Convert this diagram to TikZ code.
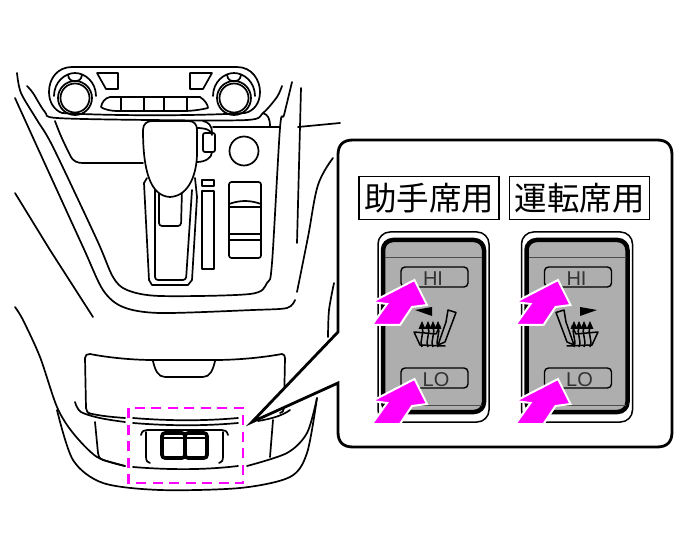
\documentclass[tikz,border=0pt]{standalone}
\usepackage{fontspec}
\newfontfamily\cjk{Noto Sans CJK JP}
\setsansfont{Liberation Sans}
\usetikzlibrary{calc}
\definecolor{Pink}{HTML}{FF00FF}
\definecolor{Panel}{HTML}{AEAEAE}
\tikzset{
  outline/.style={line width=1.7pt,line join=round,line cap=round},
  thickline/.style={line width=2.8pt,line join=round},
  title/.style={draw,line width=1.3pt,minimum width=140pt,minimum height=43pt,inner sep=0pt,font=\cjk\fontsize{32.5}{32.5}\selectfont},
  keycap/.style={draw,line width=1.4pt,rounded corners=4pt,minimum width=67pt,minimum height=20pt,inner sep=0pt},
  keytext/.style={inner sep=0pt,font=\sffamily\fontsize{20}{20}\selectfont,text=black!80},
  pusharrow/.style={fill=Pink,draw=white,line width=2pt,line join=miter},
}
% one seat switch, drawn at the position of the left one
\newcommand{\seatswitch}[1]{
  \draw[outline,rounded corners=12pt,line width=1.5pt] (378,232) rectangle (489,422);
  \draw[thickline,line width=4.5pt,fill=Panel,rounded corners=10pt] (383,240) rectangle (484,412);
  \draw[black!70,line width=1pt] (385,258)--(482,258) (385,405)--(482,405);
  \node[keycap] (hi#1) at (434.5,277) {};
  \node[keycap] (lo#1) at (434.5,378) {};
  \node[keytext] at (433,278.5) {HI};
  \node[keytext] at (436,379.5) {LO};
}
% seat with heating arrows, mirrored for the driver side
\newcommand{\seaticon}{
  \fill (432,307)--(432,316)--(415,310)--cycle;
  \draw[outline,line width=1.5pt,fill=Panel] (448,310)--(456,312.5)--(445,342)--(438,345)--(446,322)--cycle;
  \draw[outline,line width=1.5pt] (414,332)--(420,345)--(445,346) (414,332)--(436,334)--(440,326);
  \foreach \x in {422,428,433,438}{
    \draw[line width=1.5pt] (\x,347) .. controls (\x-3,340) and (\x+3,332) .. (\x,327);
    \fill (\x-3.5,329)--(\x,321)--(\x+3.5,329)--cycle;
  }
}
\newcommand{\pushshape}{(414.5,280)--(427,305)--(412,307)--(400,325)--(372,325)--(387,304)--(372,302)--cycle}
\begin{document}
\begin{tikzpicture}[x=1pt,y=-1pt]
  \useasboundingbox (0,0) rectangle (686,556);
  % outer console lines
  \draw[outline] plot[smooth,tension=.5] coordinates {(15,98) (40,153) (83,247) (103,290) (123,307) (160,313) (253,310) (287,308) (295,300)};
  \draw[outline] plot[smooth,tension=.5] coordinates {(17,73) (21,93) (37,120) (53,147) (97,240) (113,277) (127,290) (160,296) (250,294) (267,283) (272,263) (280,128) (284,115) (292,82)};
  \draw[outline] (301,88)--(297,243);
  \draw[outline] (298,127)--(340,123);
  \draw[outline] plot[smooth,tension=.6] coordinates {(333,158) (318,185) (308,237) (297,292)};
  \draw[outline] (15,193)--(50,250)--(93,317);
  \draw[outline] plot[smooth] coordinates {(334,283) (329,310) (328,337)};
  % dash panel
  \draw[outline] plot[smooth,tension=.5] coordinates {(27,86) (33,93) (45,112) (57,118) (150,120) (247,120) (263,113) (277,97) (282,86)};
  \draw[outline] (55,121) .. controls (60,135) and (65,145) .. (70,155) .. controls (73,162) and (78,163) .. (83,163)--(143,163);
  \draw[outline] (213,127)--(280,127);
  \draw[outline] (263,113) .. controls (268,115) and (270,118) .. (270,127);
  \draw[outline] (72,67)--(237,67) .. controls (252,67) and (260,80) .. (260,92) .. controls (260,103) and (254,111) .. (245,113) .. controls (200,116) and (110,116) .. (62,113) .. controls (54,110) and (49,102) .. (49,92) .. controls (49,78) and (58,67) .. (72,67)--cycle;
  \foreach \x in {75,234}{
    \draw[outline] (\x,98) circle (14.5pt);
    \draw[outline] (\x,98) circle (17pt);
    \draw[outline] (\x-21,96) .. controls (\x-21,82) and (\x-10,73) .. (\x,73) .. controls (\x+10,73) and (\x+21,82) .. (\x+21,96);
    \draw[outline] (\x-7,75) .. controls (\x-6,80) and (\x-4,81) .. (\x,81) .. controls (\x+4,81) and (\x+6,80) .. (\x+7,75);
  }
  \draw[outline] (97,73)--(118,73)--(118,89)--(106,89)--cycle;
  \draw[outline] (190,73)--(212,73)--(203,89)--(190,89)--cycle;
  \draw[outline] (110,97)--(200,97) .. controls (205,100) and (208,105) .. (208,108) .. controls (200,110) and (190,111) .. (185,111)--(118,111) .. controls (110,111) and (103,109) .. (101,107) .. controls (102,102) and (105,98) .. (110,97)--cycle;
  \foreach \x in {121,144,164,187}{\draw[outline] (\x,97)--(\x,111);}
  % shifter
  \draw[outline] (147,178)--(144,183)--(149,280)--(152,285)--(188,285)--(192,280)--(197,197)--(195,178);
  \draw[outline,rounded corners=3pt] (155,190)--(155,280)--(186,280)--(192,190);
  \draw[outline,rounded corners=3pt] (159,190)--(159,226)--(181,226)--(182,190);
  \draw[outline] (197,128) .. controls (205,128) and (212,130) .. (212,135);
  \draw[outline] (197,162) .. controls (205,162) and (212,158) .. (212,152);
  \draw[outline] (203,121) .. controls (208,122) and (212,125) .. (212,133);
  \draw[outline,rounded corners=2pt] (203,133) rectangle (215,152);
  \draw[outline,fill=white] (143,130) .. controls (143,124) and (147,121) .. (152,121)--(188,121) .. controls (194,121) and (197,124) .. (197,130)--(197,153) .. controls (197,172) and (190,196) .. (170,197) .. controls (150,196) and (143,170) .. (143,130)--cycle;
  \draw[outline] (244,151) circle (14.5pt);
  \draw[outline] (202,180) rectangle (214,186);
  \draw[outline] (202,191) rectangle (214,269);
  \draw[outline,rounded corners=2.5pt] (229,182) rectangle (261,258);
  \draw[outline] (229,204) .. controls (240,200) and (250,200) .. (261,204);
  \draw[outline] (229,207)--(261,207) (229,234)--(261,234) (229,240)--(261,240);
  % lower tray
  \draw[outline] (86,408)--(85,358) .. controls (85,355) and (87,354) .. (90,354) .. controls (110,358) and (135,360) .. (153,360)--(215,360) .. controls (235,360) and (260,358) .. (282,354) .. controls (284,354) and (285,356) .. (285,358)--(284,408) .. controls (284,411) and (282,413) .. (280,413);
  \draw[outline] (86,408) .. controls (86,411) and (88,413) .. (90,414);
  \draw[outline] (153,361) .. controls (155,370) and (158,377) .. (165,377)--(203,377) .. controls (210,377) and (213,370) .. (215,361);
  \draw[outline] (75,402) .. controls (77,409) and (80,412) .. (83,413) .. controls (95,418) and (110,420) .. (125,422);
  \draw[outline] (88,413) .. controls (100,416) and (112,417) .. (125,418);
  \draw[outline] (133,418) .. controls (170,421) and (205,421) .. (238,418);
  \draw[outline] (133,423) .. controls (170,426) and (205,426) .. (238,423);
  \draw[outline] (133,467) .. controls (170,470) and (205,470) .. (238,466);
  \draw[outline] (290,410) .. controls (282,416) and (270,419) .. (258,421);
  \draw[outline] (95,422)--(98,453) .. controls (99,458) and (100,459) .. (103,460)--(125,466);
  \draw[outline] (273,420)--(270,457);
  \draw[outline] plot[smooth,tension=.5] coordinates {(15,307) (23,320) (40,357) (57,407) (73,433) (97,457) (125,466)};
  \draw[outline] plot[smooth,tension=.5] coordinates {(57,410) (73,460) (103,483) (160,490) (240,488) (290,477) (307,453) (317,398)};
  \draw[outline] plot[smooth,tension=.5] coordinates {(317,398) (307,433) (287,453) (247,466)};
  % switch plate
  \draw[outline] (141,435) .. controls (142,431) and (144,430) .. (147,430)--(222,430) .. controls (225,430) and (227,431) .. (228,435);
  \draw[outline] (146,432)--(146,457) .. controls (146,461) and (148,463) .. (150,463);
  \draw[outline] (223,432)--(223,457) .. controls (223,461) and (221,463) .. (219,463);
  \draw[line width=3.6pt,rounded corners=3pt] (162,433) rectangle (185,458);
  \draw[line width=3.6pt,rounded corners=3pt] (185,433) rectangle (207,458);
  \draw[line width=2pt] (162,438)--(207,438);
  % dashed frame
  \draw[Pink,line width=2.6pt,dash pattern=on 10pt off 6.5pt] (128.5,408) rectangle (243,483);
  % callout
  \coordinate (calloutTip) at (252,422);
  \draw[line width=2.8pt,line join=miter,fill=white] (calloutTip)--(338,332)--(338,155) .. controls (338,145) and (343,140) .. (353,140)--(657,140) .. controls (667,140) and (672,145) .. (672,155)--(672,432) .. controls (672,442) and (667,447) .. (657,447)--(353,447) .. controls (343,447) and (338,442) .. (338,432)--(338,383)--cycle;
  \node[title] (passengerTitle) at (429,198) {助手席用};
  \node[title] (driverTitle) at (579.5,198) {運転席用};
  % switches
  \seatswitch{Left}
  \seaticon
  \begin{scope}[shift={(143.5,0)}]
    \seatswitch{Right}
  \end{scope}
  \begin{scope}[shift={(1012,0)},xscale=-1]
    \seaticon
  \end{scope}
  % press arrows
  \foreach \dx/\dy in {0/0,0/99,143.5/0,143.5/99}{
    \begin{scope}[shift={(\dx,\dy)}]
      \draw[pusharrow] \pushshape;
    \end{scope}
  }
\end{tikzpicture}
\end{document}
